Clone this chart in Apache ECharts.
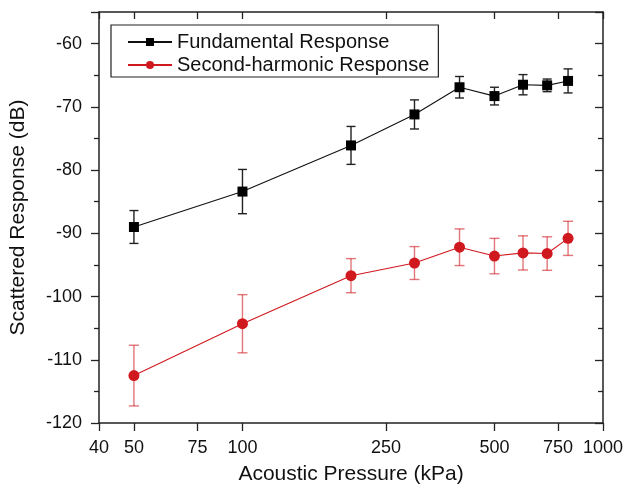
<!DOCTYPE html>
<html><head><meta charset="utf-8">
<script src="https://cdn.jsdelivr.net/npm/echarts@6/dist/echarts.min.js"></script>
<style>html,body{margin:0;padding:0;background:#fff}#c{width:627px;height:490px}</style>
</head><body><div id="c"></div>
<script>
const pressures = [50, 100, 200, 300, 400, 500, 600, 700, 800];
const fundamental = [-89.0, -83.4, -76.1, -71.2, -66.9, -68.3, -66.5, -66.6, -65.9];
const fundamentalErr = [2.6, 3.5, 3.0, 2.3, 1.7, 1.4, 1.6, 1.0, 1.9];
const secondHarmonic = [-112.5, -104.3, -96.7, -94.7, -92.2, -93.6, -93.1, -93.2, -90.8];
const secondHarmonicErr = [4.8, 4.6, 2.7, 2.6, 2.9, 2.8, 2.7, 2.65, 2.7];
const xTicks = [40, 50, 75, 100, 250, 500, 750, 1000];
const seriesNames = ['Fundamental Response', 'Second-harmonic Response'];

const FONT = 'Liberation Sans, Arial, sans-serif';
const RED = '#d0191f';
const chart = echarts.init(document.getElementById('c'), null, {renderer: 'canvas'});

function errSeries(vals, errs, color, capHalf) {
  return {
    type: 'custom', silent: true, z: 1,
    xAxisIndex: 0, yAxisIndex: 0,
    data: pressures.map((p, i) => [p, vals[i] - errs[i], vals[i] + errs[i]]),
    encode: {x: 0, y: [1, 2]},
    renderItem(params, api) {
      const x = api.value(0);
      const lo = api.coord([x, api.value(1)]);
      const hi = api.coord([x, api.value(2)]);
      const s = {stroke: color, lineWidth: 1.4};
      return {type: 'group', children: [
        {type: 'line', shape: {x1: lo[0], y1: lo[1], x2: hi[0], y2: hi[1]}, style: s},
        {type: 'line', shape: {x1: lo[0] - capHalf, y1: lo[1], x2: lo[0] + capHalf, y2: lo[1]}, style: s},
        {type: 'line', shape: {x1: hi[0] - capHalf, y1: hi[1], x2: hi[0] + capHalf, y2: hi[1]}, style: s}
      ]};
    }
  };
}

const axisLine = {show: true, onZero: false, lineStyle: {color: '#222', width: 1.5}};
const tickStyle = {color: '#222', width: 1.3};

const option = {
  animation: false,
  backgroundColor: '#fff',
  grid: {left: 93, right: 24, top: 12, bottom: 67, containLabel: false},
  legend: {
    data: seriesNames,
    orient: 'vertical',
    left: 111, top: 25,
    borderColor: '#222', borderWidth: 1.2,
    padding: [6, 9, 1, 16],
    itemGap: 1,
    itemWidth: 44, itemHeight: 10,
    textStyle: {fontFamily: FONT, fontSize: 20, color: '#111', lineHeight: 22},
    itemStyle: {borderWidth: 0}
  },
  xAxis: [{
    type: 'log', min: 40, max: 1000, position: 'bottom',
    name: 'Acoustic Pressure (kPa)', nameLocation: 'middle', nameGap: 41,
    nameTextStyle: {fontFamily: FONT, fontSize: 21, color: '#111'},
    axisLine: axisLine,
    axisTick: {show: true, inside: false, length: 8, lineStyle: tickStyle, customValues: xTicks},
    axisLabel: {fontFamily: FONT, fontSize: 18, color: '#111', margin: 16, customValues: xTicks,
      formatter: v => String(Math.round(v)),
      showMinLabel: true, showMaxLabel: true},
    splitLine: {show: false}, minorTick: {show: false}
  }, {
    type: 'log', min: 40, max: 1000, position: 'top',
    axisLine: axisLine,
    axisTick: {show: true, inside: true, length: 7, lineStyle: tickStyle, customValues: xTicks},
    axisLabel: {show: false, customValues: xTicks},
    splitLine: {show: false}
  }],
  yAxis: [{
    type: 'value', min: -120, max: -55, interval: 10, position: 'left',
    name: 'Scattered Response (dB)', nameLocation: 'middle', nameGap: 70, nameRotate: 90,
    nameTextStyle: {fontFamily: FONT, fontSize: 21, color: '#111'},
    axisLine: axisLine,
    axisTick: {show: true, inside: false, length: 8, lineStyle: tickStyle},
    minorTick: {show: true, splitNumber: 2, length: 5, lineStyle: tickStyle},
    axisLabel: {fontFamily: FONT, fontSize: 18, color: '#111', margin: 17, showMaxLabel: false},
    splitLine: {show: false}
  }, {
    type: 'value', min: -120, max: -55, interval: 10, position: 'right',
    axisLine: axisLine,
    axisTick: {show: true, inside: true, length: 8, lineStyle: tickStyle},
    minorTick: {show: true, splitNumber: 2, length: 5, lineStyle: tickStyle},
    axisLabel: {show: false},
    splitLine: {show: false}
  }],
  series: [
    errSeries(fundamental, fundamentalErr, '#222', 4.5),
    errSeries(secondHarmonic, secondHarmonicErr, 'rgba(208,25,31,0.6)', 5),
    {
      name: seriesNames[0], type: 'line', z: 3,
      data: pressures.map((p, i) => [p, fundamental[i]]),
      symbol: 'rect', symbolSize: 10,
      lineStyle: {color: '#111', width: 1.1},
      itemStyle: {color: '#000'}
    },
    {
      name: seriesNames[1], type: 'line', z: 3,
      data: pressures.map((p, i) => [p, secondHarmonic[i]]),
      symbol: 'circle', symbolSize: 11,
      lineStyle: {color: RED, width: 1.1},
      itemStyle: {color: RED}
    }
  ]
};
chart.setOption(option);
</script></body></html>
